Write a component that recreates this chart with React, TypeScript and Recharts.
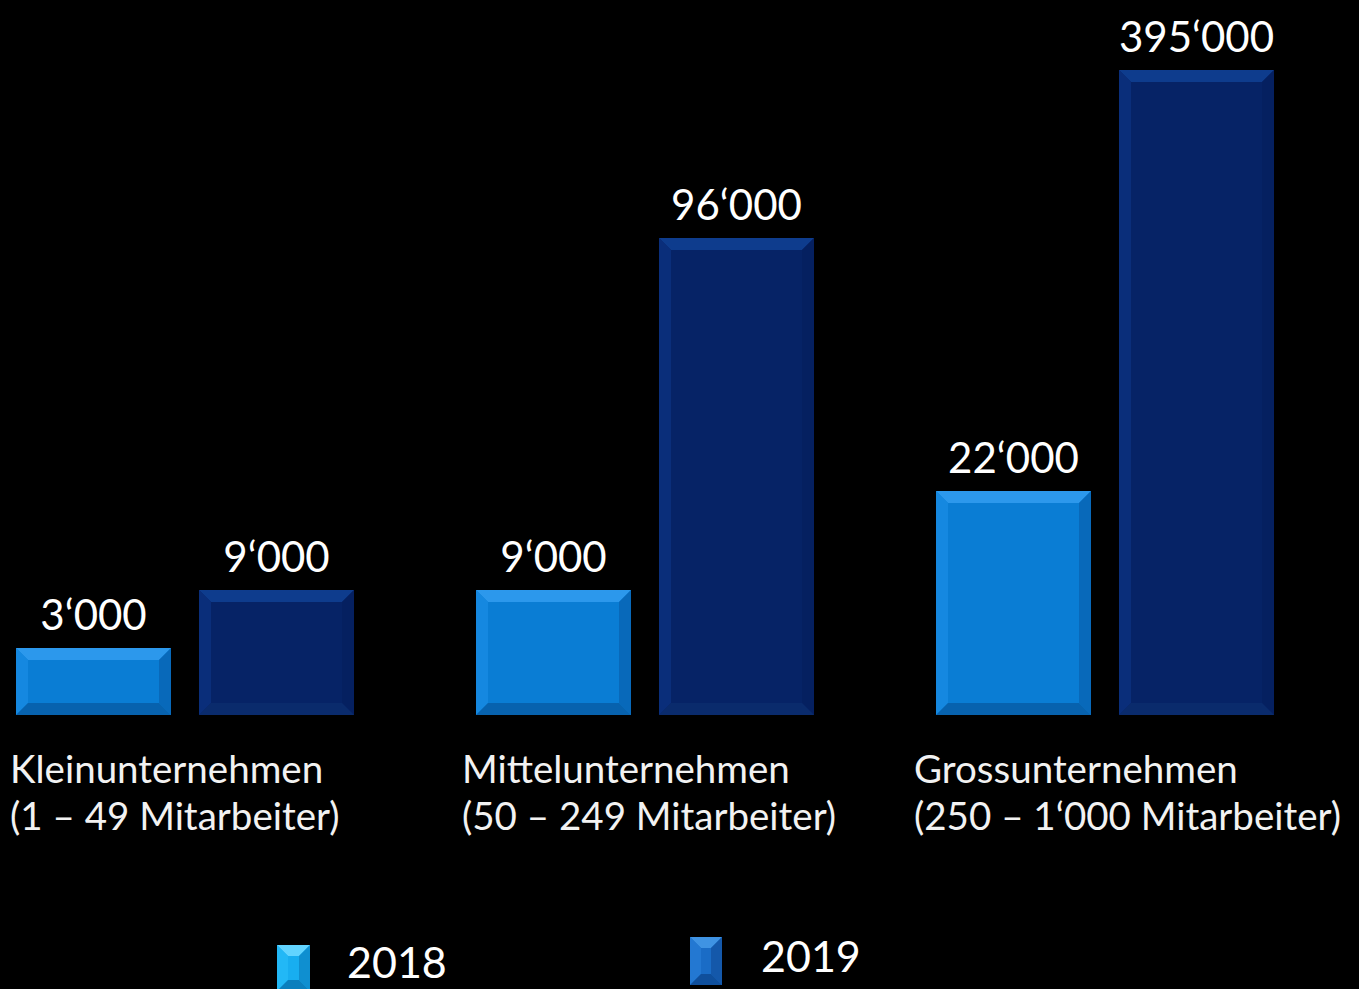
import React from "react";
import { BarChart, Bar, XAxis, YAxis, Legend, LabelList } from "recharts";

const categories = ["Kleinunternehmen", "Mittelunternehmen", "Grossunternehmen"];
const sizeRanges = [
  "(1 – 49 Mitarbeiter)",
  "(50 – 249 Mitarbeiter)",
  "(250 – 1‘000 Mitarbeiter)",
];
const values2018 = [3000, 9000, 22000];
const values2019 = [9000, 96000, 395000];
// the original slide is not drawn to scale, so keep the bar heights as they appear
const drawn2018 = [67, 125, 224];
const drawn2019 = [125, 477, 645];
const seriesNames = ["2018", "2019"];

const FONT = "Lato, 'Open Sans', sans-serif";

const chartData = categories.map((name, i) => ({
  name,
  range: sizeRanges[i],
  v2018: values2018[i],
  v2019: values2019[i],
  h2018: drawn2018[i],
  h2019: drawn2019[i],
}));

const fmt = (v: number) => String(v).replace(/\B(?=(\d{3})+(?!\d))/g, "‘");

type Bevel = { face: string; top: string; left: string; right: string; bottom: string };

const bevel2018: Bevel = { face: "#0a7dd4", top: "#2c98ec", left: "#1588e0", right: "#0869ba", bottom: "#0762ae" };
const bevel2019: Bevel = { face: "#062366", top: "#0e3c8d", left: "#0a2e7a", right: "#052060", bottom: "#0a2b6c" };
const legendBevel: Bevel[] = [
  { face: "#18aef0", top: "#62d4ff", left: "#22b8f6", right: "#0f8fd0", bottom: "#0b7fbd" },
  { face: "#1a6cc6", top: "#3f93e3", left: "#2378d2", right: "#1458aa", bottom: "#0f4f9c" },
];

function bevelPolys(x: number, y: number, w: number, h: number, b: number, c: Bevel) {
  const bb = Math.min(b, w / 2, h / 2);
  return (
    <g>
      <rect x={x} y={y} width={w} height={h} fill={c.face} />
      <polygon points={`${x},${y} ${x + w},${y} ${x + w - bb},${y + bb} ${x + bb},${y + bb}`} fill={c.top} />
      <polygon points={`${x},${y} ${x + bb},${y + bb} ${x + bb},${y + h - bb} ${x},${y + h}`} fill={c.left} />
      <polygon points={`${x + w},${y} ${x + w},${y + h} ${x + w - bb},${y + h - bb} ${x + w - bb},${y + bb}`} fill={c.right} />
      <polygon points={`${x},${y + h} ${x + bb},${y + h - bb} ${x + w - bb},${y + h - bb} ${x + w},${y + h}`} fill={c.bottom} />
    </g>
  );
}

const makeShape = (c: Bevel) => (props: any) => {
  const { x, y, width, height } = props;
  if (!height || height <= 0) return <g />;
  return bevelPolys(x, y, width, height, 12, c);
};

const ValueLabel = (props: any) => {
  const { x, y, width, value } = props;
  return (
    <text
      x={x + width / 2}
      y={y - 18}
      textAnchor="middle"
      fill="#ffffff"
      fontFamily={FONT}
      fontSize={42}
    >
      {fmt(value)}
    </text>
  );
};

// left edge of each two-line category label, relative to the band centre
const tickShift = [-175, -183, -191];

const CategoryTick = (props: any) => {
  const { x, y, payload, index } = props;
  const left = x + tickShift[index];
  return (
    <g>
      <text x={left} y={y + 68} fill="#f2f2f2" fontFamily={FONT} fontSize={38.5}>
        {payload.value}
      </text>
      <text x={left} y={y + 115} fill="#f2f2f2" fontFamily={FONT} fontSize={38.5}>
        {sizeRanges[index]}
      </text>
    </g>
  );
};

// icon / text placement of the two legend entries (legend box coords)
const legendSpots = [
  { ix: 322, iy: 15, iw: 33, ih: 46, tx: 392, ty: 48 },
  { ix: 735, iy: 7, iw: 32, ih: 48, tx: 806, ty: 42 },
];

const LegendContent = (props: any) => {
  const items = props.payload || [];
  return (
    <svg width={1400} height={59} style={{ display: "block", overflow: "visible" }}>
      {items.map((item: any, i: number) => {
        const s = legendSpots[i];
        return (
          <g key={item.value}>
            {bevelPolys(s.ix, s.iy, s.iw, s.ih, 11, legendBevel[i])}
            <text x={s.tx} y={s.ty} fill="#ffffff" fontFamily={FONT} fontSize={43}>
              {item.value}
            </text>
          </g>
        );
      })}
    </svg>
  );
};

export default function App() {
  return (
    <div
      style={{
        position: "absolute",
        left: 0,
        top: 0,
        width: 1359,
        height: 989,
        background: "#000",
        overflow: "hidden",
      }}
    >
      <div style={{ position: "absolute", left: -45, top: 0 }}>
        <BarChart
          width={1400}
          height={989}
          data={chartData}
          margin={{ top: 0, right: 20, bottom: 0, left: 0 }}
          barSize={155}
          barGap={28}
          style={{ overflow: "visible" }}
        >
          <XAxis
            dataKey="name"
            axisLine={false}
            tickLine={false}
            tickSize={0}
            tickMargin={0}
            height={215}
            interval={0}
            tick={<CategoryTick />}
          />
          <YAxis hide domain={[0, 715]} />
          <Legend
            verticalAlign="bottom"
            align="left"
            content={<LegendContent />}
            wrapperStyle={{ height: 59, width: 1400, left: 0 }}
          />
          <Bar
            dataKey="h2018"
            name={seriesNames[0]}
            fill={bevel2018.face}
            shape={makeShape(bevel2018)}
            isAnimationActive={false}
          >
            <LabelList dataKey="v2018" content={<ValueLabel />} />
          </Bar>
          <Bar
            dataKey="h2019"
            name={seriesNames[1]}
            fill={bevel2019.face}
            shape={makeShape(bevel2019)}
            isAnimationActive={false}
          >
            <LabelList dataKey="v2019" content={<ValueLabel />} />
          </Bar>
        </BarChart>
      </div>
    </div>
  );
}
